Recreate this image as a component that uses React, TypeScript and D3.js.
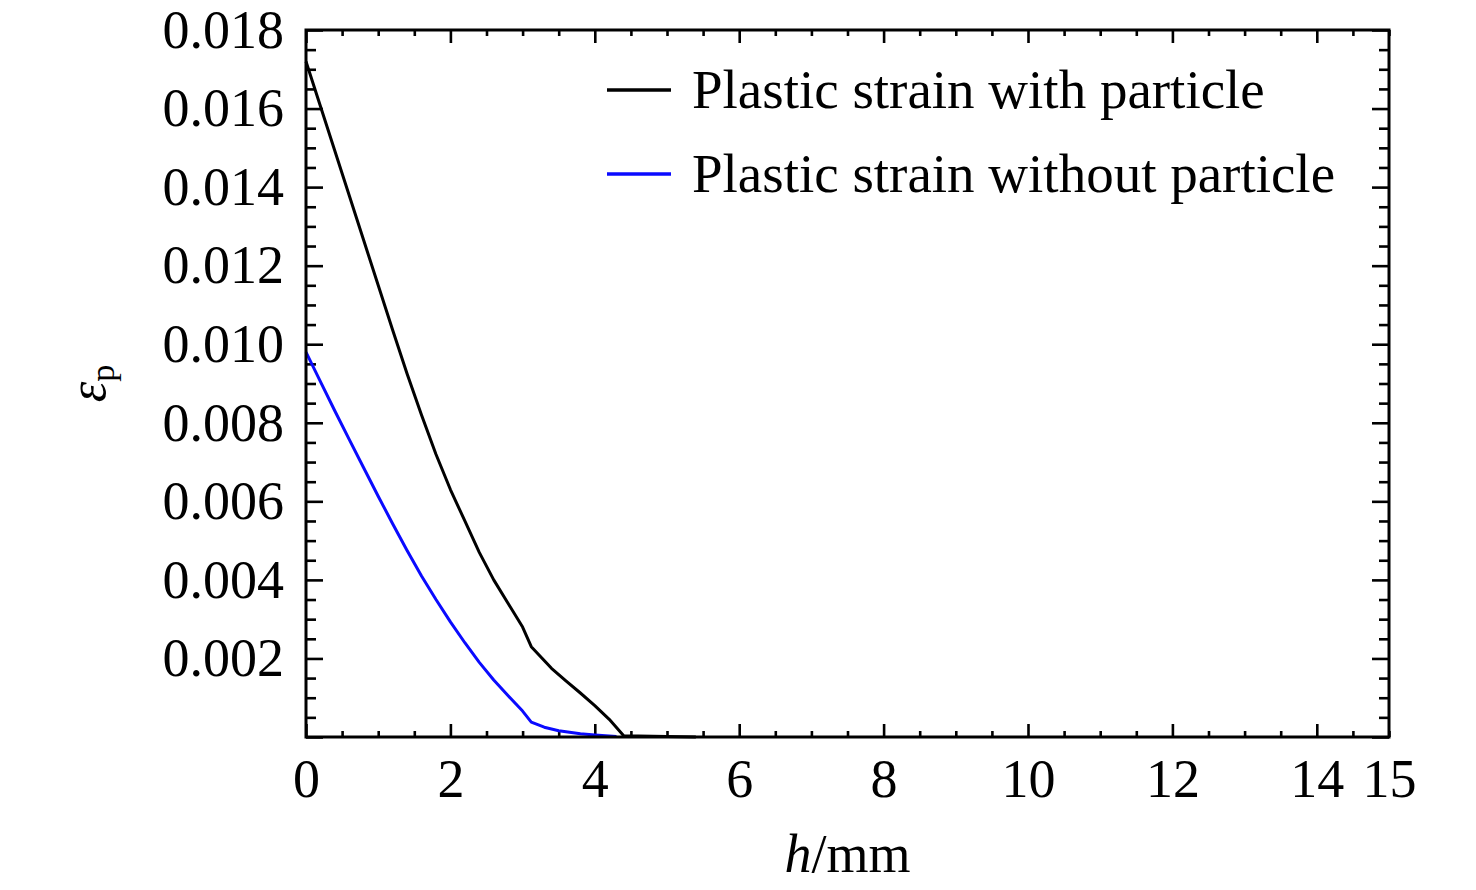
import React, { useEffect, useRef } from "react";
import * as d3 from "d3";

// h (mm) sample positions and plastic strain
const hWithParticle = [0, 0.2, 0.4, 0.6, 0.8, 1.0, 1.2, 1.4, 1.6, 1.8, 2.0, 2.2, 2.4, 2.6, 2.8, 3.0, 3.12, 3.4, 3.6, 3.8, 4.0, 4.2, 4.4, 5.4];
const strainWithParticle = [0.0172, 0.01606, 0.01492, 0.01378, 0.01264, 0.0115, 0.01036, 0.00925, 0.0082, 0.0072, 0.0063, 0.0055, 0.0047, 0.004, 0.0034, 0.0028, 0.0023, 0.00175, 0.00143, 0.00112, 0.0008, 0.00045, 0.00003, 0];

const hWithoutParticle = [0, 0.2, 0.4, 0.6, 0.8, 1.0, 1.2, 1.4, 1.6, 1.8, 2.0, 2.2, 2.4, 2.6, 2.8, 3.0, 3.12, 3.3, 3.5, 3.8, 4.0, 4.3];
const strainWithoutParticle = [0.0098, 0.00905, 0.0083, 0.00757, 0.00685, 0.00613, 0.00543, 0.00475, 0.0041, 0.0035, 0.00293, 0.0024, 0.0019, 0.00145, 0.00105, 0.00066, 0.00038, 0.00025, 0.00016, 0.00008, 0.00005, 0.00001];

const seriesNames = ["Plastic strain with particle", "Plastic strain without particle"];
const seriesColors = ["#000000", "#0a0aff"];

const xTickLabels = [0, 2, 4, 6, 8, 10, 12, 14, 15];
const yTickLabels = [0.002, 0.004, 0.006, 0.008, 0.01, 0.012, 0.014, 0.016, 0.018];

const FONT = "'Liberation Serif', 'Times New Roman', serif";

const Chart: React.FC = () => {
  const ref = useRef<SVGSVGElement | null>(null);

  useEffect(() => {
    if (!ref.current) return;
    const svg = d3.select(ref.current);
    svg.selectAll("*").remove();

    const left = 306, right = 1389, top = 30, bottom = 737;
    const x = d3.scaleLinear().domain([0, 15]).range([left, right]);
    const y = d3.scaleLinear().domain([0, 0.018]).range([bottom, top]);

    const styleAxis = (g: d3.Selection<SVGGElement, unknown, null, undefined>) => {
      g.select(".domain").remove();
      g.selectAll(".tick line").attr("stroke", "#000").attr("stroke-width", 2.6);
    };

    const xMajor = d3.range(0, 15.01, 2);
    const xMinor = d3.range(0, 15.01, 0.5).filter((v) => Math.abs(v % 2) > 1e-6);
    const yMajor = d3.range(0, 0.0181, 0.002);
    const yMinor = d3.range(0, 0.0181, 0.0005).filter((v) => Math.abs(v / 0.002 - Math.round(v / 0.002)) > 1e-6);

    // ticks pointing inward on all four sides
    const ticks = [
      { axis: d3.axisBottom(x).tickValues(xMajor).tickSize(-13), t: `translate(0,${bottom})` },
      { axis: d3.axisBottom(x).tickValues(xMinor).tickSize(-6), t: `translate(0,${bottom})` },
      { axis: d3.axisTop(x).tickValues(xMajor).tickSize(-13), t: `translate(0,${top})` },
      { axis: d3.axisTop(x).tickValues(xMinor).tickSize(-6), t: `translate(0,${top})` },
      { axis: d3.axisLeft(y).tickValues(yMajor).tickSize(-17), t: `translate(${left},0)` },
      { axis: d3.axisLeft(y).tickValues(yMinor).tickSize(-10), t: `translate(${left},0)` },
      { axis: d3.axisRight(y).tickValues(yMajor).tickSize(-17), t: `translate(${right},0)` },
      { axis: d3.axisRight(y).tickValues(yMinor).tickSize(-10), t: `translate(${right},0)` },
    ];
    ticks.forEach(({ axis, t }) => {
      const g = svg.append("g").attr("transform", t).call(axis.tickFormat(() => "") as any);
      styleAxis(g);
    });

    // curves
    const line = d3
      .line<[number, number]>()
      .x((d) => x(d[0]))
      .y((d) => y(d[1]))
      .curve(d3.curveLinear);

    const series: [number, number][][] = [
      hWithParticle.map((h, i) => [h, strainWithParticle[i]]),
      hWithoutParticle.map((h, i) => [h, strainWithoutParticle[i]]),
    ];

    svg
      .append("g")
      .selectAll("path")
      .data(series)
      .enter()
      .append("path")
      .attr("d", (d) => line(d) as string)
      .attr("fill", "none")
      .attr("stroke", (_d, i) => seriesColors[i])
      .attr("stroke-width", 3)
      .attr("stroke-linejoin", "round");

    // frame
    svg
      .append("rect")
      .attr("x", left)
      .attr("y", top)
      .attr("width", right - left)
      .attr("height", bottom - top)
      .attr("fill", "none")
      .attr("stroke", "#000")
      .attr("stroke-width", 3);

    // tick labels
    const xLab = svg
      .append("g")
      .attr("transform", `translate(0,${bottom})`)
      .call(d3.axisBottom(x).tickValues(xTickLabels).tickSize(0).tickPadding(22).tickFormat(d3.format("d")) as any);
    xLab.select(".domain").remove();
    xLab.selectAll("text").attr("font-family", FONT).attr("font-size", 54).attr("fill", "#000");

    const yLab = svg
      .append("g")
      .attr("transform", `translate(${left},0)`)
      .call(d3.axisLeft(y).tickValues(yTickLabels).tickSize(0).tickPadding(22).tickFormat(d3.format(".3f")) as any);
    yLab.select(".domain").remove();
    yLab.selectAll("text").attr("font-family", FONT).attr("font-size", 54).attr("fill", "#000");

    // axis titles
    const xTitle = svg
      .append("text")
      .attr("x", (left + right) / 2)
      .attr("y", 872)
      .attr("text-anchor", "middle")
      .attr("font-family", FONT)
      .attr("font-size", 54);
    xTitle.append("tspan").attr("font-style", "italic").text("h");
    xTitle.append("tspan").text("/mm");

    const yTitle = svg
      .append("text")
      .attr("transform", `translate(105,${(top + bottom) / 2}) rotate(-90)`)
      .attr("text-anchor", "middle")
      .attr("font-family", FONT)
      .attr("font-size", 52);
    yTitle.append("tspan").attr("font-style", "italic").text("ε");
    yTitle.append("tspan").attr("font-size", 34).attr("dy", 9).text("p");

    // legend
    const legend = svg
      .append("g")
      .selectAll("g")
      .data(seriesNames)
      .enter()
      .append("g")
      .attr("transform", (_d, i) => `translate(607,${90 + i * 84})`);
    legend
      .append("line")
      .attr("x1", 0)
      .attr("x2", 64)
      .attr("stroke", (_d, i) => seriesColors[i])
      .attr("stroke-width", 3.5);
    legend
      .append("text")
      .attr("x", 85)
      .attr("y", 18)
      .attr("font-family", FONT)
      .attr("font-size", 55)
      .text((d) => d);
  }, []);

  return <svg ref={ref} width={1476} height={890} style={{ display: "block", background: "#fff" }} />;
};

export default function App() {
  return (
    <div style={{ position: "absolute", left: 0, top: 0 }}>
      <Chart />
    </div>
  );
}
